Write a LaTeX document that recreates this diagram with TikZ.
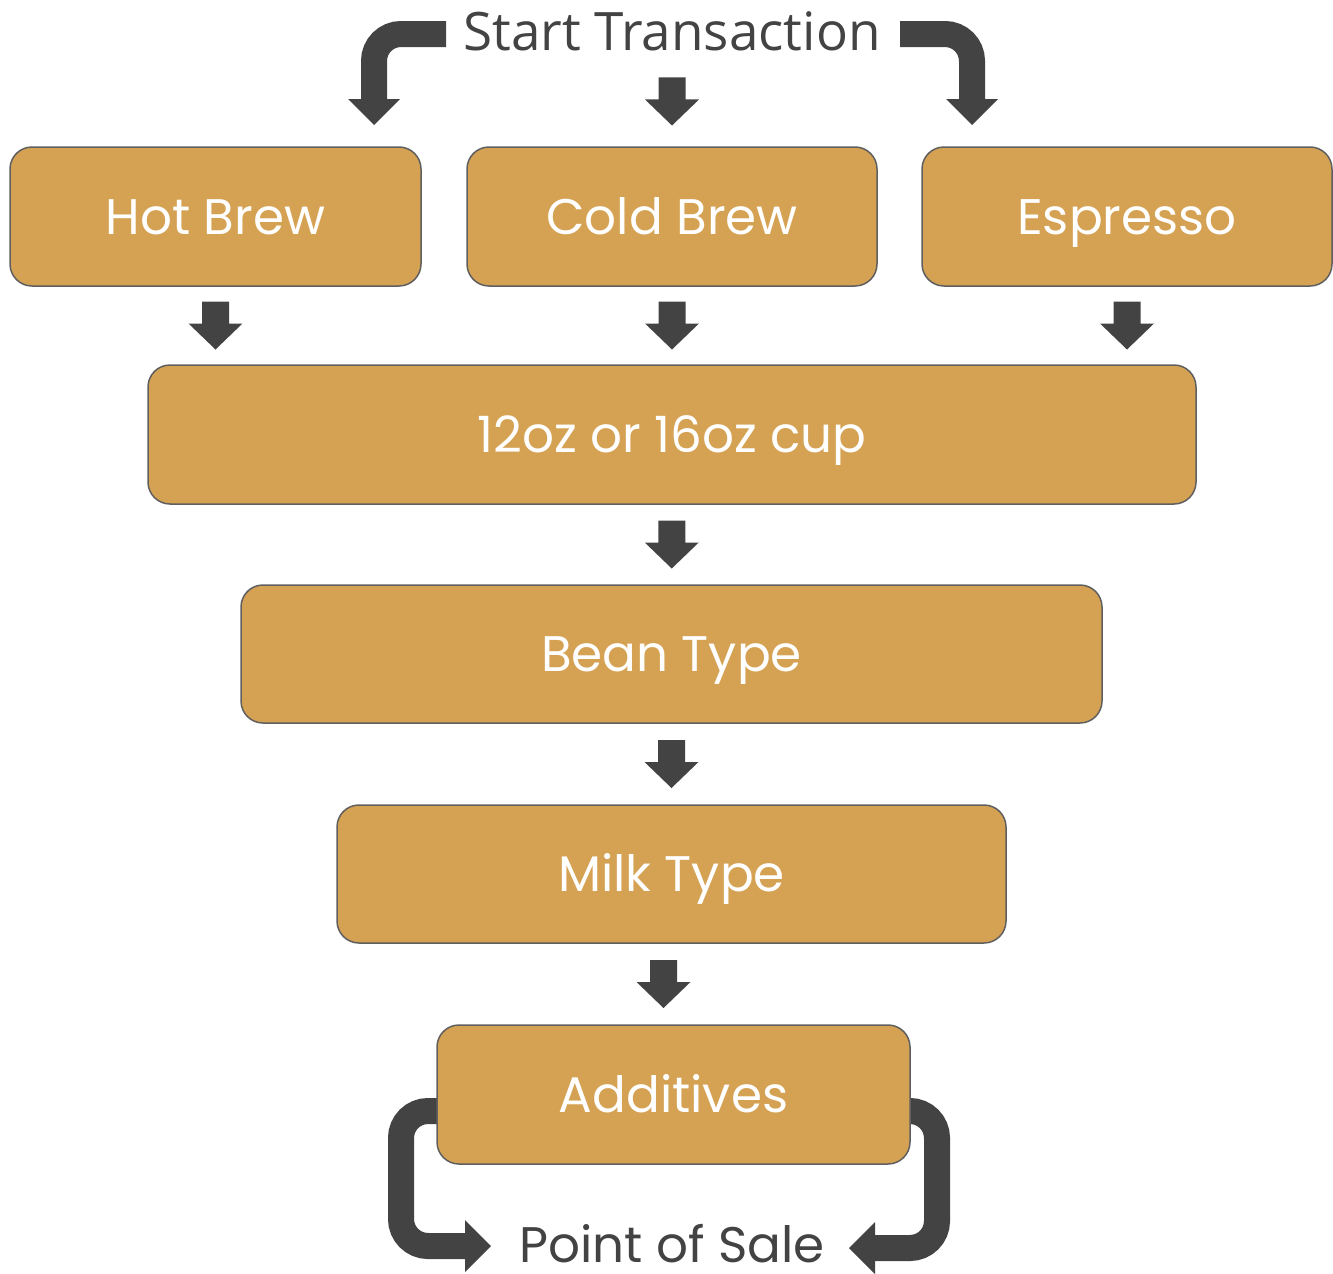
\documentclass[tikz,border=0pt]{standalone}
\usepackage{fontspec}
\usetikzlibrary{calc}
\newfontfamily\boxfont{Poppins}
\newfontfamily\labelfont{Open Sans}
\definecolor{boxfill}{HTML}{D5A254}
\definecolor{boxedge}{HTML}{5F5F5F}
\definecolor{arrowgray}{HTML}{434343}
\tikzset{
  stepbox/.style={draw=boxedge, line width=1.5, fill=boxfill, rounded corners=22,
    text=white, font=\boxfont\fontsize{50}{60}\selectfont, inner sep=0pt,
    text height=35pt, text depth=0pt, minimum height=139},
  endlabel/.style={text=arrowgray, inner sep=0pt, anchor=base},
  bendline/.style={draw=arrowgray, line width=26, rounded corners=27},
  blockdown/.pic={\fill[arrowgray] (-13.5,-24) -- (13.5,-24) -- (13.5,-2) -- (27,-2)
    -- (0,24) -- (-27,-2) -- (-13.5,-2) -- cycle;},
  tiphead/.pic={\fill[arrowgray] (0,0) -- (-26,-26) -- (-26,26) -- cycle;}
}
\begin{document}
\begin{tikzpicture}[x=1pt, y=-1pt]
\useasboundingbox (0,0) rectangle (1333,1274);
% start and end labels
\node [endlabel, font=\labelfont\fontsize{53}{62}\selectfont] (start) at (672,50) {Start Transaction};
\node [endlabel, font=\boxfont\fontsize{50}{60}\selectfont] (sale) at (672,1262) {Point of Sale};
% bent arrows out of the start label
\draw [bendline] (446,34) -| (374,100);
\pic [rotate=-90] at (374,125) {tiphead};
\draw [bendline] (900,34) -| (972,100);
\pic [rotate=-90] at (972,125) {tiphead};
% loops round the additives box
\draw [bendline] (445,1111) -- (401,1111) -- (401,1246) -- (467,1246);
\pic at (491,1246) {tiphead};
\draw [bendline] (905,1111) -- (937,1111) -- (937,1248) -- (873,1248);
\pic [rotate=180] at (849,1248) {tiphead};
% drink kinds
\node [stepbox, minimum width=411] (hot) at (215.5,216.5) {Hot Brew};
\node [stepbox, minimum width=410] (cold) at (672,216.5) {Cold Brew};
\node [stepbox, minimum width=410] (espresso) at (1127,216.5) {Espresso};
% steps
\node [stepbox, minimum width=1048] (cup) at (672,434.5) {12oz or 16oz cup};
\node [stepbox, minimum width=861, minimum height=138] (bean) at (671.5,654) {Bean Type};
\node [stepbox, minimum width=669, minimum height=138] (milk) at (671.5,874) {Milk Type};
\node [stepbox, minimum width=473] (add) at (673.5,1094.5) {Additives};
% straight arrows
\pic at ($(start.south)!0.5!(cold.north)+(0,3)$) {blockdown};
\pic at ($(hot.south)!0.5!(hot.south |- cup.north)$) {blockdown};
\pic at ($(cold.south)!0.5!(cup.north)$) {blockdown};
\pic at ($(espresso.south)!0.5!(espresso.south |- cup.north)$) {blockdown};
\pic at ($(cup.south)!0.5!(bean.north)$) {blockdown};
\pic at ($(bean.south)!0.5!(milk.north)$) {blockdown};
\pic at ($(milk.south)!0.5!(add.north)+(-9,0)$) {blockdown};
\end{tikzpicture}
\end{document}
